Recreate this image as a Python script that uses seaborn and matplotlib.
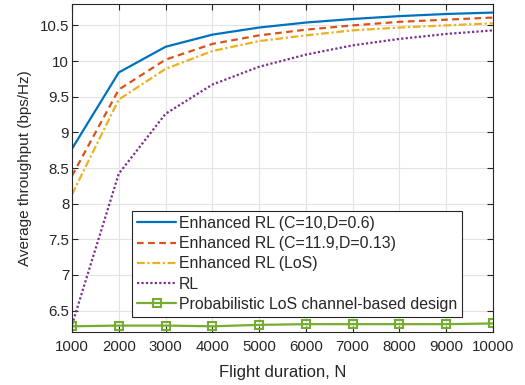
import matplotlib
matplotlib.use("Agg")
import matplotlib.pyplot as plt
import pandas as pd
import seaborn as sns

# Values
durations = [1000, 2000, 3000, 4000, 5000, 6000, 7000, 8000, 9000, 10000]
enh_rl_c10 = [8.77, 9.84, 10.20, 10.37, 10.47, 10.54, 10.59, 10.63, 10.66, 10.68]
enh_rl_c119 = [8.39, 9.60, 10.02, 10.24, 10.36, 10.44, 10.50, 10.55, 10.58, 10.61]
enh_rl_los = [8.13, 9.46, 9.89, 10.14, 10.28, 10.36, 10.43, 10.47, 10.50, 10.53]
plain_rl = [6.30, 8.42, 9.26, 9.67, 9.92, 10.09, 10.22, 10.31, 10.38, 10.43]
prob_los = [6.28, 6.29, 6.29, 6.28, 6.30, 6.31, 6.31, 6.31, 6.31, 6.32]

labels = ['Enhanced RL (C=10,D=0.6)', 'Enhanced RL (C=11.9,D=0.13)',
          'Enhanced RL (LoS)', 'RL', 'Probabilistic LoS channel-based design']

sns.set_style("ticks")
plt.rcParams['font.family'] = ['Liberation Sans', 'DejaVu Sans']

fig = plt.figure(figsize=(5.25, 3.85), dpi=100)
ax = fig.add_axes([72 / 525, 1 - 332 / 385, 421 / 525, 328 / 385])

series = [
    (enh_rl_c10, '#0072BD', '-', None),
    (enh_rl_c119, '#D95319', (0, (3, 2)), None),
    (enh_rl_los, '#EDB120', (0, (3.5, 1.2, 1, 1.2)), None),
    (plain_rl, '#7E2F8E', (0, (1, 1)), None),
    (prob_los, '#77AC30', '-', 's'),
]

for (vals, color, ls, mk), lab in zip(series, labels):
    df = pd.DataFrame({'N': durations, 'T': vals})
    sns.lineplot(data=df, x='N', y='T', color=color, linestyle=ls, linewidth=1.6,
                 marker=mk, markersize=6, markerfacecolor='none',
                 markeredgecolor=color, markeredgewidth=1.5, label=lab, ax=ax)

ax.set_xlim(1000, 10000)
ax.set_ylim(6.2, 10.8)
ax.set_xticks(durations)
ax.set_yticks([6.5, 7, 7.5, 8, 8.5, 9, 9.5, 10, 10.5])
ax.set_yticklabels(['6.5', '7', '7.5', '8', '8.5', '9', '9.5', '10', '10.5'])
ax.grid(True, color='#e3e3e3', linewidth=0.8)
ax.set_axisbelow(True)
ax.tick_params(direction='in', top=True, right=True, length=4, width=0.8,
               color='#262626', labelsize=10.8, labelcolor='#262626')
ax.tick_params(axis='x', pad=6)
ax.tick_params(axis='y', pad=2)
for s in ax.spines.values():
    s.set_color('#262626')
    s.set_linewidth(0.8)

ax.set_xlabel('Flight duration, N', fontsize=12, color='#262626', labelpad=8)
ax.set_ylabel('Average throughput (bps/Hz)', fontsize=11, color='#262626', labelpad=6)

leg = ax.legend(loc='lower left', bbox_to_anchor=(0.1425, 0.047), fontsize=11.4,
                frameon=True, fancybox=False, handlelength=2.5, handletextpad=0.15,
                borderpad=0.3, labelspacing=0.33, borderaxespad=0)
leg.get_frame().set_edgecolor('#262626')
leg.get_frame().set_linewidth(0.8)
leg.get_frame().set_alpha(1)

fig.savefig('out.png', dpi=100)
